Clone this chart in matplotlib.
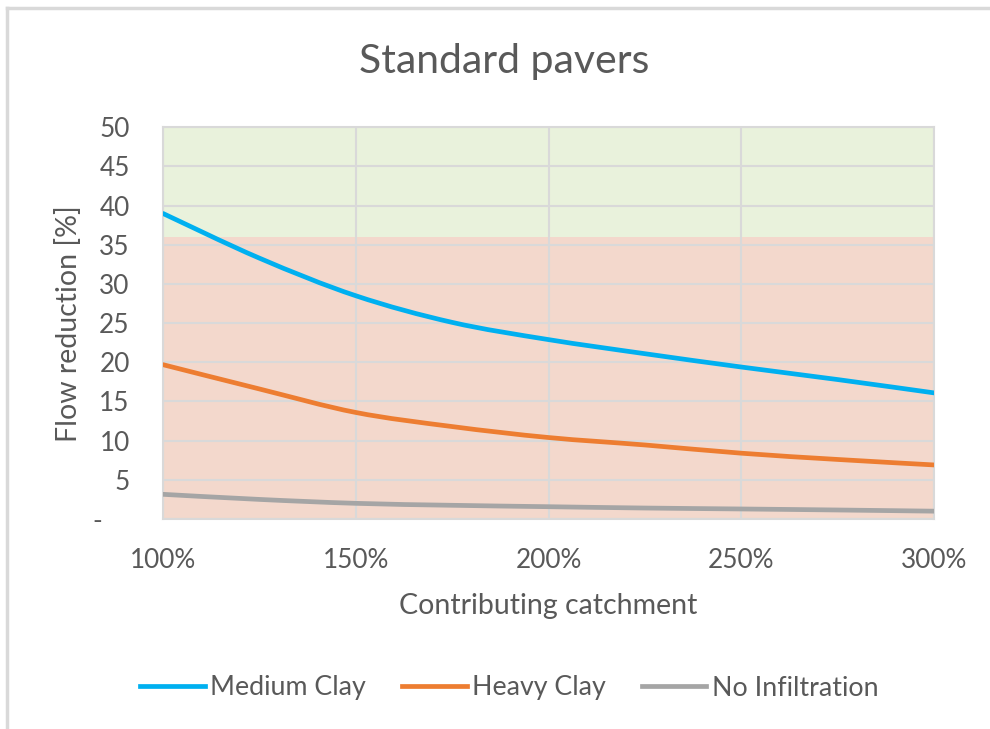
import matplotlib
matplotlib.use("Agg")
import matplotlib.pyplot as plt
from matplotlib.lines import Line2D
from matplotlib.path import Path
from matplotlib.patches import PathPatch
from matplotlib.ticker import FixedLocator, FuncFormatter

# Contributing catchment as a fraction of the paved area
catchment = [1.00, 1.25, 1.50, 1.75, 2.00, 2.25, 2.50, 2.75, 3.00]

# Flow reduction [%] for each soil type
medium_clay = [39.0, 33.3, 28.5, 25.1, 22.9, 21.1, 19.4, 17.8, 16.1]
heavy_clay = [19.7, 16.6, 13.6, 11.8, 10.4, 9.45, 8.4, 7.6, 6.9]
no_infiltration = [3.15, 2.5, 2.0, 1.75, 1.57, 1.4, 1.28, 1.15, 1.0]

# Target band: flow reduction of 36 % or more is acceptable
target = 36
y_max = 50

series_names = ["Medium Clay", "Heavy Clay", "No Infiltration"]
series_colors = ["#00b0f0", "#ed7d31", "#a5a5a5"]

x_ticks = [1.0, 1.5, 2.0, 2.5, 3.0]
y_ticks = list(range(0, 55, 5))

text_color = "#595959"
grid_color = "#d9d9d9"

plt.rcParams["font.family"] = ["Lato", "DejaVu Sans"]


def smooth_path(xs, ys):
    """Catmull-Rom style cubic Bezier path through the data points."""
    pts = list(zip(xs, ys))
    n = len(pts)
    verts = [pts[0]]
    codes = [Path.MOVETO]
    for i in range(n - 1):
        p0 = pts[i - 1] if i > 0 else pts[i]
        p1 = pts[i]
        p2 = pts[i + 1]
        p3 = pts[i + 2] if i + 2 < n else pts[i + 1]
        c1 = (p1[0] + (p2[0] - p0[0]) / 6, p1[1] + (p2[1] - p0[1]) / 6)
        c2 = (p2[0] - (p3[0] - p1[0]) / 6, p2[1] - (p3[1] - p1[1]) / 6)
        verts += [c1, c2, p2]
        codes += [Path.CURVE4] * 3
    return Path(verts, codes)


fig = plt.figure(figsize=(9.9, 7.29), dpi=100)
ax = fig.add_axes([163 / 990, 1 - 519 / 729, (934 - 163) / 990, (519 - 127.3) / 729])

# Background bands
ax.axhspan(0, target, color="#f3d8cc", zorder=0.2, lw=0)
ax.axhspan(target, y_max, color="#e9f2dc", zorder=0.2, lw=0)

lw = 3.4
for vals, name, col in zip([medium_clay, heavy_clay, no_infiltration], series_names, series_colors):
    patch = PathPatch(smooth_path(catchment, vals), facecolor="none", edgecolor=col,
                      lw=lw, capstyle="round", joinstyle="round", zorder=3)
    ax.add_patch(patch)

ax.set_xlim(1.0, 3.0)
ax.set_ylim(0, y_max)
ax.xaxis.set_major_locator(FixedLocator(x_ticks))
ax.yaxis.set_major_locator(FixedLocator(y_ticks))
ax.xaxis.set_major_formatter(FuncFormatter(lambda v, p: f"{v * 100:.0f}%"))
ax.yaxis.set_major_formatter(FuncFormatter(lambda v, p: "-    " if v == 0 else f"{v:.0f}"))

ax.set_axisbelow(True)
ax.grid(True, color=grid_color, lw=1.5)
for s in ax.spines.values():
    s.set_color(grid_color)
    s.set_linewidth(1.5)
ax.tick_params(length=0, labelsize=18.8, colors=text_color)
ax.tick_params(axis="y", pad=24)
ax.tick_params(axis="x", pad=21)

ax.set_xlabel("Contributing catchment", fontsize=20.5, color=text_color, labelpad=14)
ax.set_ylabel("Flow reduction [%]", fontsize=20.5, color=text_color, labelpad=8)

fig.text(504 / 990, 1 - 62 / 729, "Standard pavers", ha="center", va="center",
         fontsize=29.5, color=text_color)

handles = [Line2D([], [], color=c, lw=lw) for c in series_colors]
fig.legend(handles, series_names, loc="center", bbox_to_anchor=(509 / 990, 1 - 688 / 729),
           ncol=3, frameon=False, fontsize=19.3, handlelength=2.42, handletextpad=0.19,
           columnspacing=1.35, labelcolor=text_color)

# Chart frame (left and top edges)
frame_kw = dict(transform=fig.transFigure, color="#d9d9d9", lw=2.5)
fig.add_artist(Line2D([6.5 / 990, 6.5 / 990], [0, 1 - 7.5 / 729], **frame_kw))
fig.add_artist(Line2D([6.5 / 990, 1], [1 - 7.5 / 729, 1 - 7.5 / 729], **frame_kw))

fig.savefig("out.png", dpi=100)
